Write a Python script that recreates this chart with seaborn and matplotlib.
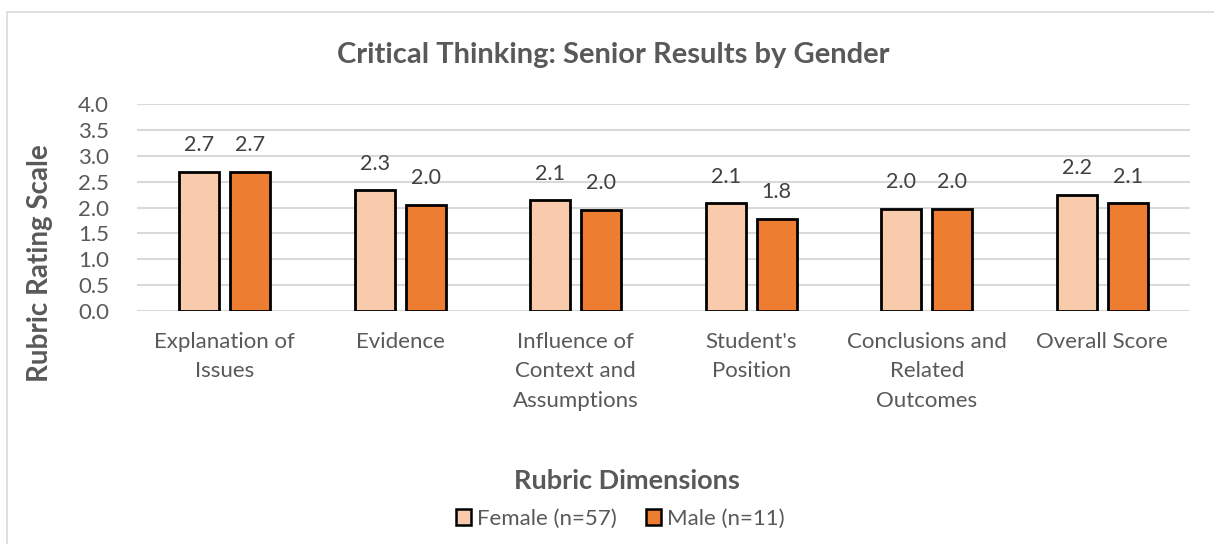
import matplotlib
matplotlib.use("Agg")
import matplotlib.pyplot as plt
import matplotlib.patches as mpatches
import seaborn as sns
import pandas as pd

categories = ["Explanation of\nIssues", "Evidence", "Influence of\nContext and\nAssumptions",
              "Student's\nPosition", "Conclusions and\nRelated\nOutcomes", "Overall Score"]
female = [2.69, 2.33, 2.14, 2.08, 1.97, 2.24]
male = [2.69, 2.05, 1.96, 1.78, 1.97, 2.08]
series = ["Female (n=57)", "Male (n=11)"]
yticks = [0.0, 0.5, 1.0, 1.5, 2.0, 2.5, 3.0, 3.5, 4.0]

df = pd.DataFrame({
    "cat": categories * 2,
    "val": female + male,
    "grp": [series[0]] * len(categories) + [series[1]] * len(categories),
})

sns.set_theme(style="white")
plt.rcParams['font.family'] = ['Lato', 'DejaVu Sans']
txt = "#595959"

fig = plt.figure(figsize=(12.14, 5.44), dpi=100)
ax = fig.add_axes([137/1214, 1-311/544, (1190-137)/1214, (311-104)/544])

palette = {series[0]: "#F8CBAD", series[1]: "#ED7D31"}
sns.barplot(data=df, x="cat", y="val", hue="grp", palette=palette, ax=ax,
            width=0.58, gap=0.22, edgecolor="black", linewidth=2.0,
            saturation=1, legend=False, zorder=3)

for cont in ax.containers:
    ax.bar_label(cont, labels=[f"{v:.1f}" for v in cont.datavalues], padding=12,
                 fontsize=15.5, color="#404040")

ax.set_ylim(0, 4.0)
ax.set_yticks(yticks)
ax.set_yticklabels([f"{t:.1f}" for t in yticks], fontsize=16, color=txt)
ax.set_xlim(-0.5, len(categories) - 0.5)
ax.set_xticks(range(len(categories)))
ax.set_xticklabels(categories, fontsize=16, color=txt, linespacing=1.6, va="top")
ax.tick_params(axis="x", pad=15, length=0)
ax.tick_params(axis="y", pad=20, length=0)
ax.grid(axis="y", color="#d9d9d9", linewidth=1.5, zorder=0)
ax.set_axisbelow(True)
for s in ax.spines.values():
    s.set_visible(False)
ax.set_xlabel("")
ax.set_ylabel("")

fig.text(613/1214, 1 - 55/544, "Critical Thinking: Senior Results by Gender",
         ha="center", va="center", fontsize=21, fontweight="bold", color=txt)
fig.text(40/1214, 1 - 263/544, "Rubric Rating Scale", rotation=90, ha="center",
         va="center", fontsize=20, fontweight="bold", color=txt)
fig.text(627/1214, 1 - 481/544, "Rubric Dimensions", ha="center", va="center",
         fontsize=19.5, fontweight="bold", color=txt)

handles = [mpatches.Patch(facecolor=palette[s], edgecolor="black", linewidth=1.8, label=s)
           for s in series]
fig.legend(handles=handles, loc="center", bbox_to_anchor=(620/1214, 1 - 519/544),
           ncol=2, frameon=False, fontsize=16, handlelength=0.7, handleheight=0.7,
           handletextpad=0.25, columnspacing=1.3, labelcolor=txt)

fig.patches.append(mpatches.Rectangle((7/1214, -0.1), 1.2, 1 - 12/544 + 0.1,
                                      transform=fig.transFigure, fill=False,
                                      edgecolor="#d9d9d9", linewidth=1.2))

fig.savefig("out.png", dpi=100)
